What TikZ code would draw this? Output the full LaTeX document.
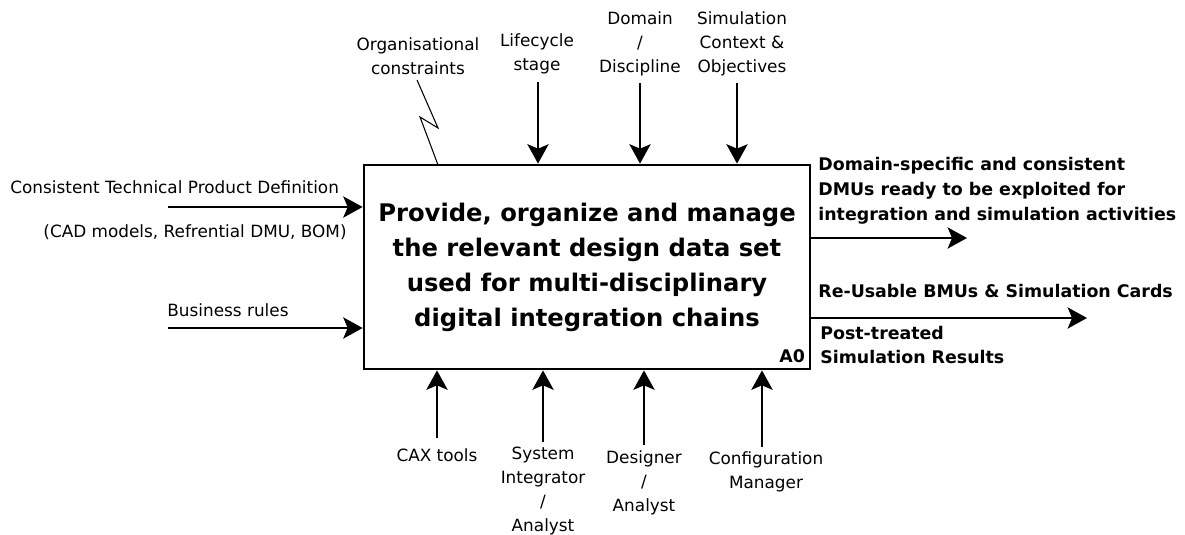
\documentclass[tikz,border=0pt]{standalone}
\usepackage{fontspec}
\setmainfont{DejaVu Sans}
\usetikzlibrary{arrows.meta, positioning, calc}

\begin{document}
\begin{tikzpicture}[
    x=0.02cm, y=-0.02cm,
    func/.style={rectangle, draw, line width=1.6pt, minimum width=8.92cm, minimum height=4.08cm, align=center, font=\fontsize{13.8}{19.9}\selectfont\bfseries},
    lbl/.style={align=center, inner sep=0pt, font=\fontsize{9.6}{13.7}\selectfont},
    outlbl/.style={align=left, inner sep=0pt, anchor=west, font=\fontsize{9.9}{14.2}\selectfont\bfseries},
    arrow/.style={-{Stealth[length=11pt, width=12pt, inset=2.5pt]}, line width=1.6pt},
    squiggle/.style={line width=0.6pt}
]
\useasboundingbox (0,0) rectangle (1185,534);

% activity box
\node[func] (a0) at (587,267) {Provide, organize and manage\\the relevant design data set\\used for multi-disciplinary\\digital integration chains};
\node[inner sep=0pt, anchor=south east, font=\fontsize{9.9}{12}\selectfont\bfseries] (a0id) at ($(a0.south east)+(-6,-7)$) {A0};

% controls
\node[lbl] (org) at (418,56) {Organisational\\constraints};
\node[lbl] (life) at (537,54) {Lifecycle\\stage};
\node[lbl] (dom) at (640,44) {Domain\\/\\Discipline};
\node[lbl] (sim) at (742,44) {Simulation\\Context \&\\Objectives};
\coordinate (orgtop) at (417,80);
\coordinate (orgbot) at (438,165);
\coordinate (lifetop) at (538,82);
\coordinate (domtop) at (640,83);
\coordinate (simtop) at (737,83);
\draw[squiggle] (orgtop) -- (438,128) -- (420,117) -- (orgbot);
\draw[arrow] (lifetop) -- (lifetop |- a0.north);
\draw[arrow] (domtop) -- (domtop |- a0.north);
\draw[arrow] (simtop) -- (simtop |- a0.north);

% inputs
\node[lbl, anchor=west] (ctp) at (10,187) {Consistent Technical Product Definition};
\node[lbl] (cad) at (195,232) {(CAD models, Refrential DMU, BOM)};
\node[lbl, anchor=west] (bus) at (167,310) {Business rules};
\coordinate (ctpin) at (168,207);
\coordinate (busin) at (168,328);
\draw[arrow] (ctpin) -- (ctpin -| a0.west);
\draw[arrow] (busin) -- (busin -| a0.west);

% outputs
\node[outlbl] (dmu) at (818,191) {Domain-specific and consistent\\DMUs ready to be exploited for\\integration and simulation activities};
\node[outlbl] (reuse) at (818,291) {Re-Usable BMUs \& Simulation Cards};
\node[outlbl] (post) at (820,345) {Post-treated\\Simulation Results};
\coordinate (dmuout) at (967,238);
\coordinate (reuseout) at (1087,318);
\draw[arrow] (dmuout -| a0.east) -- (dmuout);
\draw[arrow] (reuseout -| a0.east) -- (reuseout);

% mechanisms
\node[lbl] (cax) at (437,455) {CAX tools};
\node[lbl] (sysint) at (543,491) {System\\Integrator\\/\\Analyst};
\node[lbl] (des) at (644,483) {Designer\\/\\Analyst};
\node[lbl] (cfg) at (766,472) {Configuration\\Manager};
\coordinate (caxbot) at (437,438);
\coordinate (sysbot) at (543,442);
\coordinate (desbot) at (644,445);
\coordinate (cfgbot) at (762,447);
\draw[arrow] (caxbot) -- (caxbot |- a0.south);
\draw[arrow] (sysbot) -- (sysbot |- a0.south);
\draw[arrow] (desbot) -- (desbot |- a0.south);
\draw[arrow] (cfgbot) -- (cfgbot |- a0.south);
\end{tikzpicture}
\end{document}
